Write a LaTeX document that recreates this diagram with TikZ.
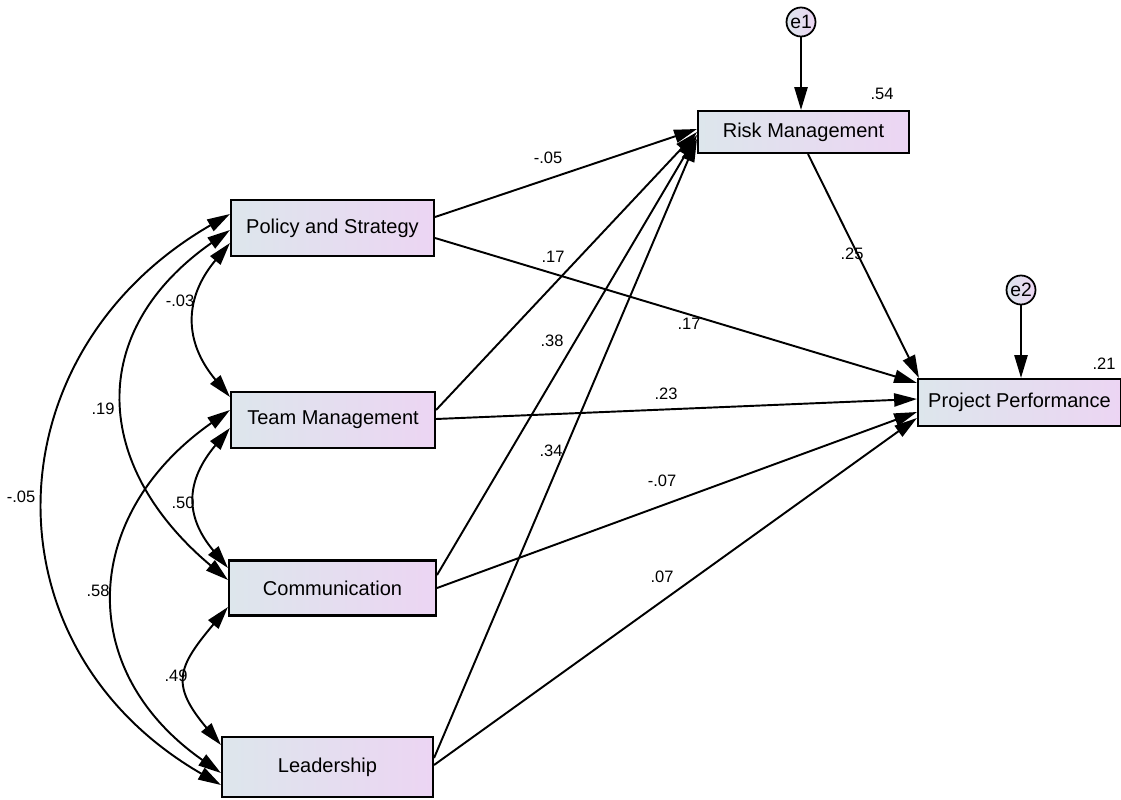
\documentclass[tikz,border=0pt]{standalone}
\usepackage{fontspec}
\setmainfont{Liberation Sans}
\usetikzlibrary{arrows.meta}
\definecolor{boxleft}{RGB}{221,230,236}
\definecolor{boxright}{RGB}{236,213,243}

\begin{document}
\begin{tikzpicture}[x=0.02cm,y=0.02cm,
  obs/.style={draw,line width=1.2pt,left color=boxleft,right color=boxright,
    font=\fontsize{11.4}{13}\selectfont,inner sep=0pt},
  err/.style={circle,draw,line width=1pt,left color=boxleft,right color=boxright,
    minimum size=0.58cm,inner sep=0pt,font=\fontsize{11}{12}\selectfont},
  arr/.style={line width=1.1pt,-{Triangle[length=13pt,width=7.5pt]}},
  cov/.style={line width=1.1pt,{Triangle[length=13pt,width=7.5pt]}-{Triangle[length=13pt,width=7.5pt]}},
  lbl/.style={font=\fontsize{9.4}{10}\selectfont,inner sep=1pt}]
  \useasboundingbox (0,0) rectangle (1121,799);

  % observed variables
  \node[obs,minimum width=4.06cm,minimum height=1.12cm] (PS) at (332.5,571) {Policy and Strategy};
  \node[obs,minimum width=4.08cm,minimum height=1.12cm] (TM) at (333,379) {Team Management};
  \node[obs,minimum width=4.14cm,minimum height=1.1cm] (CO) at (332.5,211) {Communication};
  \node[obs,minimum width=4.22cm,minimum height=1.2cm] (LE) at (327.5,32) {Leadership};
  \node[obs,minimum width=4.22cm,minimum height=0.84cm] (RM) at (803.5,667) {Risk Management};
  \node[obs,minimum width=4.06cm,minimum height=0.94cm] (PP) at (1019.5,396.5) {Project Performance};
  % errors
  \node[err] (e1) at (801,777) {e1};
  \node[err] (e2) at (1021,509) {e2};

  % regression paths
  \draw[arr] ([yshift=0.22cm]PS.east) -- ([yshift=0.06cm]RM.west);
  \draw[arr] ([yshift=-0.2cm]PS.east) -- ([yshift=0.39cm]PP.west);
  \draw[arr] ([yshift=0.2cm]TM.east) -- (RM.west);
  \draw[arr] ([yshift=0.02cm]TM.east) -- ([yshift=0.07cm]PP.west);
  \draw[arr] ([yshift=0.26cm]CO.east) -- ([yshift=-0.06cm]RM.west);
  \draw[arr] (CO.east) -- ([yshift=-0.19cm]PP.west);
  \draw[arr] ([yshift=0.18cm]LE.east) -- ([yshift=-0.14cm]RM.west);
  \draw[arr] ([yshift=0.04cm]LE.east) -- ([yshift=-0.31cm]PP.west);
  \draw[arr] ([xshift=0.09cm]RM.south) -- ([xshift=0.04cm]PP.north west);
  \draw[arr] (e1.south) -- (e1.south |- RM.north);
  \draw[arr] (e2.south) -- (e2.south |- PP.north);

  % covariances
  \draw[cov] ([yshift=-0.3cm]PS.west) to[out=230,in=130,looseness=1.2] ([yshift=0.46cm]TM.west);
  \draw[cov] ([yshift=-0.04cm]PS.west) to[out=215,in=140,looseness=1.29] ([yshift=0.16cm]CO.west);
  \draw[cov] ([yshift=0.28cm]PS.west) to[out=210,in=150,looseness=1.24] ([yshift=-0.36cm]LE.west);
  \draw[cov] ([yshift=-0.16cm]TM.west) to[out=230,in=130,looseness=1.25] ([yshift=0.4cm]CO.west);
  \draw[cov] ([yshift=0.2cm]TM.west) to[out=215,in=145,looseness=1.27] ([yshift=-0.12cm]LE.west);
  \draw[cov] ([yshift=-0.38cm]CO.west) to[out=230,in=130,looseness=1.46] ([yshift=0.44cm]LE.west);

  % estimates
  \node[lbl] (wPSRM) at (548,641) {-.05};
  \node[lbl] (wPSPP) at (689,475) {.17};
  \node[lbl] (wTMRM) at (553,542) {.17};
  \node[lbl] (wCORM) at (552,458) {.38};
  \node[lbl] (wLERM) at (551,348) {.34};
  \node[lbl] (wTMPP) at (666,405) {.23};
  \node[lbl] (wCOPP) at (662,318) {-.07};
  \node[lbl] (wLEPP) at (662,222) {.07};
  \node[lbl] (wRMPP) at (852,545) {.25};
  \node[lbl] (rRM) at (882,705) {.54};
  \node[lbl] (rPP) at (1104,435) {.21};
  \node[lbl] (cPSTM) at (180,498) {-.03};
  \node[lbl] (cPSCO) at (103,390) {.19};
  \node[lbl] (cPSLE) at (21,302) {-.05};
  \node[lbl] (cTMCO) at (183,296) {.50};
  \node[lbl] (cTMLE) at (98,208) {.58};
  \node[lbl] (cCOLE) at (176,123) {.49};
\end{tikzpicture}
\end{document}
